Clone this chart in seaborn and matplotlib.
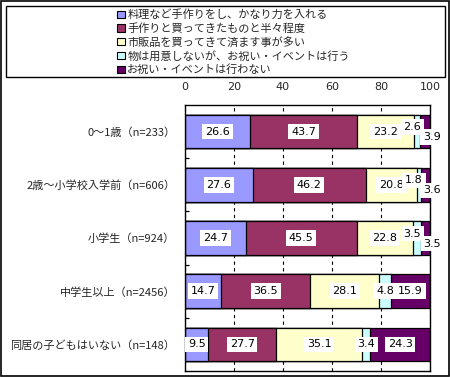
import numpy as np
import pandas as pd
import matplotlib
matplotlib.use("Agg")
import matplotlib.pyplot as plt
import seaborn as sns
from matplotlib.patches import Rectangle, Patch

categories = ["0～1歳（n=233）", "2歳～小学校入学前（n=606）", "小学生（n=924）",
              "中学生以上（n=2456）", "同居の子どもはいない（n=148）"]
series_names = ["料理など手作りをし、かなり力を入れる",
                "手作りと買ってきたものと半々程度",
                "市販品を買ってきて済ます事が多い",
                "物は用意しないが、お祝い・イベントは行う",
                "お祝い・イベントは行わない"]
s1 = [26.6, 27.6, 24.7, 14.7, 9.5]
s2 = [43.7, 46.2, 45.5, 36.5, 27.7]
s3 = [23.2, 20.8, 22.8, 28.1, 35.1]
s4 = [2.6, 1.8, 3.5, 4.8, 3.4]
s5 = [3.9, 3.6, 3.5, 15.9, 24.3]
x_ticks = [0, 20, 40, 60, 80, 100]
colors = ["#9999FF", "#993366", "#FFFFCC", "#CCFFFF", "#660066"]

sns.set_style("white")
plt.rcParams["font.family"] = ["Noto Sans CJK JP", "DejaVu Sans"]
num_font = ["DejaVu Sans"]

W, H = 450, 377
fig = plt.figure(figsize=(W / 100, H / 100), dpi=100)
ax = fig.add_axes([185 / W, 1 - 371 / H, 245 / W, 266 / H])

series = np.array([s1, s2, s3, s4, s5])
cum = np.cumsum(series, axis=0)

for i in reversed(range(len(series))):
    df = pd.DataFrame({"cat": categories, "val": cum[i]})
    sns.barplot(data=df, x="val", y="cat", orient="h", color=colors[i],
                saturation=1, edgecolor="black", linewidth=0.9, width=0.63,
                ax=ax, zorder=2)

# value labels
px = 0.72
for r in range(len(categories)):
    for j in range(len(series)):
        v = series[j][r]
        cx = cum[j][r] - v / 2
        dx, dy = 0, 0
        if s5[r] < 5 and j == 3:
            dx, dy = -5 * px, 4.5 * px
        elif s5[r] < 5 and j == 4:
            dx, dy = 6.5 * px, -5.5 * px
        ax.annotate(f"{v:.1f}", (cx, r), xytext=(dx, dy), textcoords="offset points",
                    ha="center", va="center", fontsize=8, color="black", family=num_font,
                    bbox=dict(boxstyle="square,pad=0.25", fc="white", ec="none"),
                    zorder=5, annotation_clip=False)

ax.set_xlim(0, 100)
ax.set_ylim(4.5, -0.5)
ax.set_xlabel("")
ax.set_ylabel("")
ax.xaxis.tick_top()
ax.set_xticks(x_ticks)
ax.set_xticklabels([str(t) for t in x_ticks], family=num_font)
ax.tick_params(axis="x", length=0, pad=9, labelsize=8)
ax.tick_params(axis="y", which="major", length=0, pad=7, labelsize=8)
ax.set_yticks([0.5, 1.5, 2.5, 3.5], minor=True)
ax.tick_params(axis="y", which="minor", direction="in", length=3, width=0.9, left=True, color="black")
ax.set_axisbelow(True)
ax.grid(axis="x", color="black", linestyle=(0, (3, 3)), linewidth=0.8)
for sp in ax.spines.values():
    sp.set_visible(True)
    sp.set_color("black")
    sp.set_linewidth(1)

handles = [Patch(facecolor=c, edgecolor="black", linewidth=0.8) for c in colors]
fig.legend(handles, series_names, loc="upper left", bbox_to_anchor=(114 / W, 1 - 6 / H),
           frameon=False, fontsize=8, handlelength=0.65, handleheight=0.65,
           handletextpad=0.25, labelspacing=0.27, borderaxespad=0, borderpad=0.3)

fig.add_artist(Rectangle((6 / W, 1 - 77 / H), 439 / W, 71 / H, transform=fig.transFigure,
                         fill=False, ec="black", lw=1))
fig.add_artist(Rectangle((0.6 / W, 0.6 / H), 1 - 1.2 / W, 1 - 1.2 / H, transform=fig.transFigure,
                         fill=False, ec="black", lw=1.2))

fig.savefig("out.png", dpi=100)
